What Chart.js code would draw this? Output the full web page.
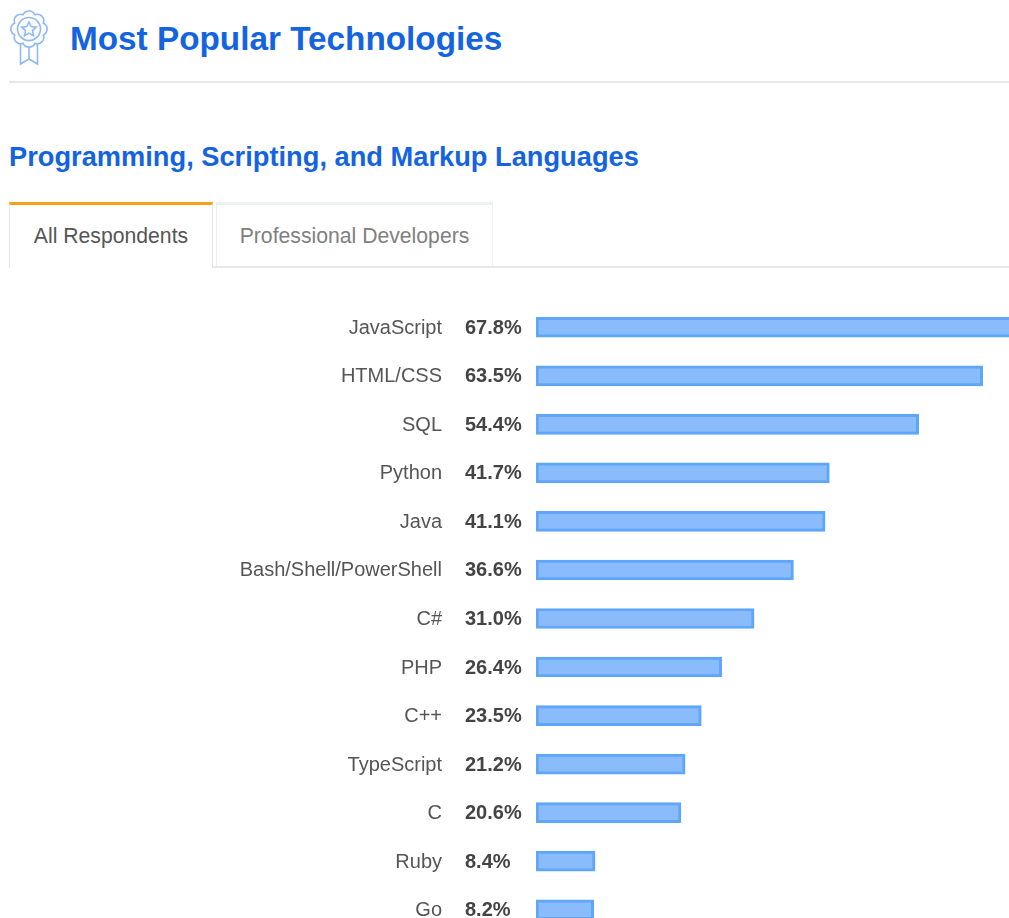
<!DOCTYPE html>
<html>
<head>
<meta charset="utf-8">
<title>Most Popular Technologies</title>
<script src="https://cdn.jsdelivr.net/npm/chart.js@4"></script>
<style>
  html, body { margin: 0; padding: 0; background: #fff; }
  body { position: relative; width: 1009px; height: 918px; overflow: hidden; font-family: "Liberation Sans", Arial, sans-serif; }
  .icon { position: absolute; left: 8px; top: 9px; }
  h1 { position: absolute; left: 70px; top: 19px; margin: 0; font-size: 33.3px; line-height: 40px; font-weight: 700; color: #1464e0; white-space: nowrap; }
  .rule { position: absolute; left: 9px; right: 0; top: 81px; height: 2px; background: #e6e7e8; }
  h2 { position: absolute; left: 9px; top: 140px; margin: 0; font-size: 27.25px; line-height: 34px; font-weight: 700; color: #1464e0; white-space: nowrap; }
  .tab { position: absolute; top: 202px; box-sizing: border-box; font-size: 21.2px; line-height: 62px; text-align: center; white-space: nowrap; }
  .tab.active { left: 9px; width: 204px; height: 66px; border-top: 3px solid #f99f1a; border-left: 1px solid #e6e7e8; border-right: 1px solid #e6e7e8; color: #555; background: #fff; z-index: 1; }
  .tab.other { left: 216px; width: 277px; height: 65px; border-top: 3px solid #eeeff0; border-left: 1px solid #eeeff0; border-right: 1px solid #eeeff0; color: #808080; }
  .tabline { position: absolute; left: 213px; right: 0; top: 266px; height: 2px; background: #e6e7e8; }
  #langs { position: absolute; left: 0; top: 303px; }
</style>
</head>
<body>
<svg class="icon" width="42" height="58" viewBox="0 0 42 58" fill="none" stroke="#8db9f6" stroke-width="1.6">
  <path d="M15.1 5.7A6.5 6.5 0 0 1 26.9 5.7A6.5 6.5 0 0 1 35.3 14.1A6.5 6.5 0 0 1 35.3 25.9A6.5 6.5 0 0 1 26.9 34.3A6.5 6.5 0 0 1 15.1 34.3A6.5 6.5 0 0 1 6.7 25.9A6.5 6.5 0 0 1 6.7 14.1A6.5 6.5 0 0 1 15.1 5.7z"/>
  <circle cx="21" cy="20" r="11.5"/>
  <path d="M21 13l2.2 4.6 5 .6-3.7 3.4 1 5-4.5-2.5-4.5 2.5 1-5-3.7-3.4 5-.6z"/>
  <path d="M12.5 35v20l8.5-5 8.5 5V35M21 38v12"/>
</svg>
<h1>Most Popular Technologies</h1>
<div class="rule"></div>
<h2>Programming, Scripting, and Markup Languages</h2>
<div class="tab active">All Respondents</div>
<div class="tab other">Professional Developers</div>
<div class="tabline"></div>
<canvas id="langs" width="1009" height="631"></canvas>

<script>
const languages = ["JavaScript", "HTML/CSS", "SQL", "Python", "Java", "Bash/Shell/PowerShell", "C#", "PHP", "C++", "TypeScript", "C", "Ruby", "Go"];
const shares = [67.8, 63.5, 54.4, 41.7, 41.1, 36.6, 31.0, 26.4, 23.5, 21.2, 20.6, 8.4, 8.2];

const FONT = '"Liberation Sans", Arial, sans-serif';

// percentage column sits between the names and the bars
const shareLabels = {
  id: "shareLabels",
  afterDraw(chart) {
    const { ctx, scales } = chart;
    ctx.save();
    ctx.font = "bold 20px " + FONT;
    ctx.fillStyle = "#444";
    ctx.textAlign = "left";
    ctx.textBaseline = "middle";
    shares.forEach((v, i) => {
      ctx.fillText(v.toFixed(1) + "%", 465, scales.y.getPixelForValue(i) + 1);
    });
    ctx.restore();
  },
};

new Chart(document.getElementById("langs"), {
  type: "bar",
  data: {
    labels: languages,
    datasets: [
      {
        label: "All Respondents",
        data: shares,
        backgroundColor: "#8abbfb",
        borderColor: "#5fa6fb",
        borderWidth: 3,
        borderSkipped: false,
        barThickness: 20,
      },
    ],
  },
  options: {
    indexAxis: "y",
    responsive: false,
    animation: false,
    layout: { padding: 0 },
    scales: {
      x: {
        display: false,
        min: 0,
        max: 67.24,
      },
      y: {
        grid: { display: false, drawTicks: false },
        border: { display: false },
        afterFit(axis) {
          axis.width = 536;
          // tick padding also pads the ends of the axis, keep rows full height
          axis.paddingTop = 0;
          axis.paddingBottom = 0;
        },
        ticks: {
          autoSkip: false,
          padding: 94,
          labelOffset: 1,
          color: "#555",
          font: { family: FONT, size: 20 },
        },
      },
    },
    plugins: {
      legend: { display: false },
      tooltip: { enabled: false },
    },
  },
  plugins: [shareLabels],
});
</script>
</body>
</html>
